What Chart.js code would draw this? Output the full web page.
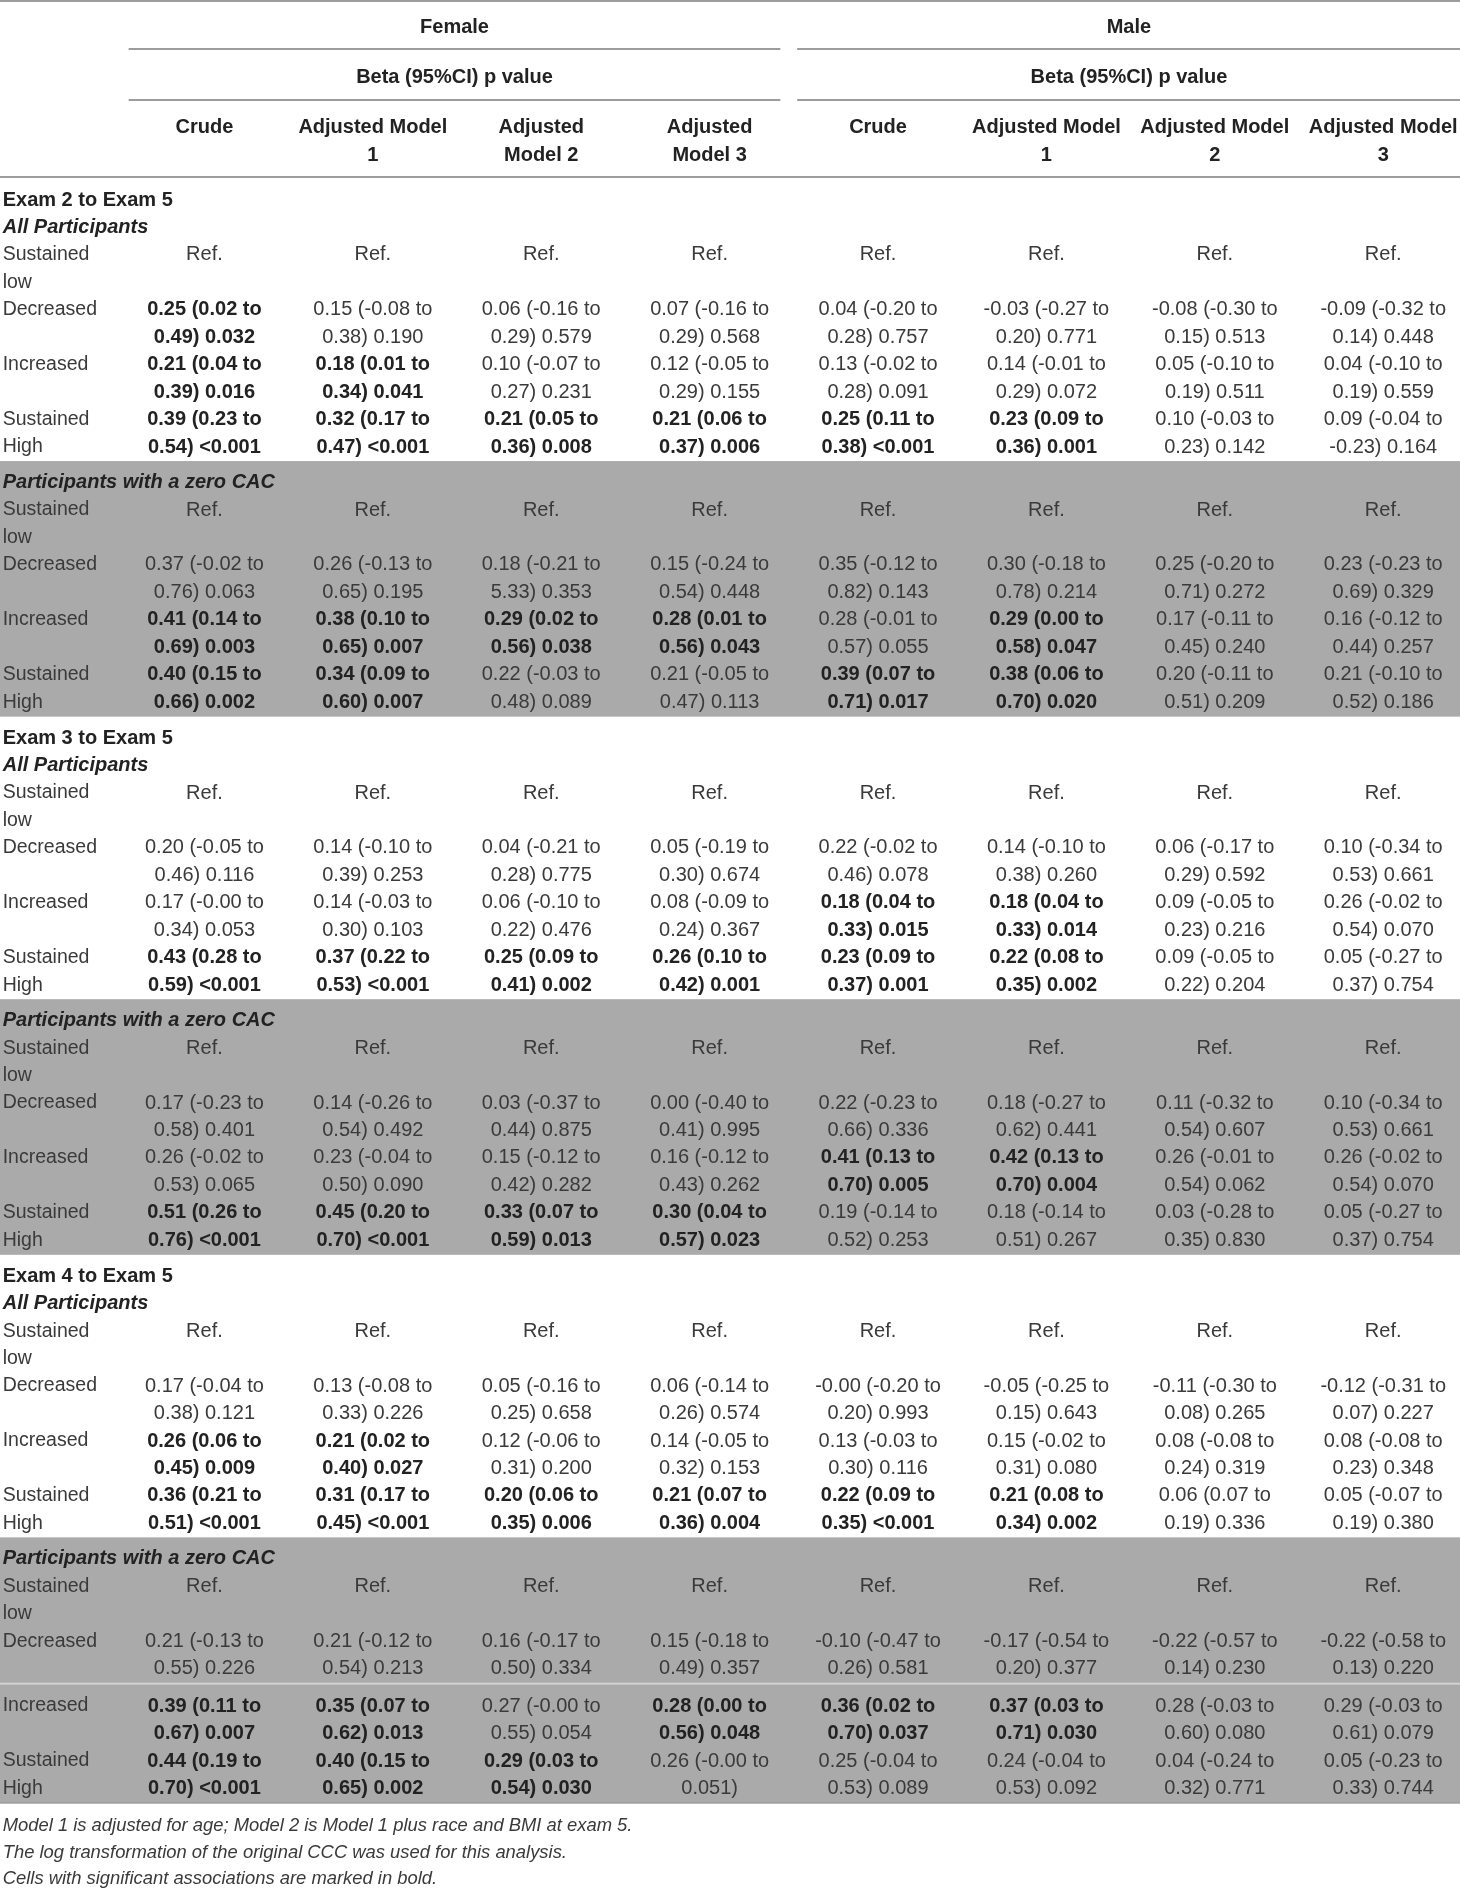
<!DOCTYPE html>
<html>
<head>
<meta charset="utf-8">
<script src="https://cdn.jsdelivr.net/npm/chart.js@4.4.1/dist/chart.umd.min.js"></script>
<style>
  html, body { margin: 0; padding: 0; background: #ffffff; }
  #wrap { position: relative; width: 1460px; height: 1888px; }
</style>
</head>
<body>
<div id="wrap"><canvas id="c"></canvas></div>
<script>
// ---------------- DATA ----------------
const columnGroups = ['Female', 'Male'];
const groupSubtitle = 'Beta (95%CI) p value';
const modelHeaders = [
  ['Crude'], ['Adjusted Model', '1'], ['Adjusted', 'Model 2'], ['Adjusted', 'Model 3'],
  ['Crude'], ['Adjusted Model', '1'], ['Adjusted Model', '2'], ['Adjusted Model', '3']
];
const sectionTitles = ['Exam 2 to Exam 5', 'Exam 3 to Exam 5', 'Exam 4 to Exam 5'];
const subgroupTitles = ['All Participants', 'Participants with a zero CAC'];
const rowLabels = [['Sustained', 'low'], ['Decreased', ''], ['Increased', ''], ['Sustained', 'High']];
const refLabel = 'Ref.';
// '*' marks a cell shown in bold (significant association)
const e2All = [
  ['*0.25 (0.02 to 0.49) 0.032', '0.15 (-0.08 to 0.38) 0.190', '0.06 (-0.16 to 0.29) 0.579', '0.07 (-0.16 to 0.29) 0.568', '0.04 (-0.20 to 0.28) 0.757', '-0.03 (-0.27 to 0.20) 0.771', '-0.08 (-0.30 to 0.15) 0.513', '-0.09 (-0.32 to 0.14) 0.448'],
  ['*0.21 (0.04 to 0.39) 0.016', '*0.18 (0.01 to 0.34) 0.041', '0.10 (-0.07 to 0.27) 0.231', '0.12 (-0.05 to 0.29) 0.155', '0.13 (-0.02 to 0.28) 0.091', '0.14 (-0.01 to 0.29) 0.072', '0.05 (-0.10 to 0.19) 0.511', '0.04 (-0.10 to 0.19) 0.559'],
  ['*0.39 (0.23 to 0.54) <0.001', '*0.32 (0.17 to 0.47) <0.001', '*0.21 (0.05 to 0.36) 0.008', '*0.21 (0.06 to 0.37) 0.006', '*0.25 (0.11 to 0.38) <0.001', '*0.23 (0.09 to 0.36) 0.001', '0.10 (-0.03 to 0.23) 0.142', '0.09 (-0.04 to -0.23) 0.164']
];
const e2Zero = [
  ['0.37 (-0.02 to 0.76) 0.063', '0.26 (-0.13 to 0.65) 0.195', '0.18 (-0.21 to 5.33) 0.353', '0.15 (-0.24 to 0.54) 0.448', '0.35 (-0.12 to 0.82) 0.143', '0.30 (-0.18 to 0.78) 0.214', '0.25 (-0.20 to 0.71) 0.272', '0.23 (-0.23 to 0.69) 0.329'],
  ['*0.41 (0.14 to 0.69) 0.003', '*0.38 (0.10 to 0.65) 0.007', '*0.29 (0.02 to 0.56) 0.038', '*0.28 (0.01 to 0.56) 0.043', '0.28 (-0.01 to 0.57) 0.055', '*0.29 (0.00 to 0.58) 0.047', '0.17 (-0.11 to 0.45) 0.240', '0.16 (-0.12 to 0.44) 0.257'],
  ['*0.40 (0.15 to 0.66) 0.002', '*0.34 (0.09 to 0.60) 0.007', '0.22 (-0.03 to 0.48) 0.089', '0.21 (-0.05 to 0.47) 0.113', '*0.39 (0.07 to 0.71) 0.017', '*0.38 (0.06 to 0.70) 0.020', '0.20 (-0.11 to 0.51) 0.209', '0.21 (-0.10 to 0.52) 0.186']
];
const e3All = [
  ['0.20 (-0.05 to 0.46) 0.116', '0.14 (-0.10 to 0.39) 0.253', '0.04 (-0.21 to 0.28) 0.775', '0.05 (-0.19 to 0.30) 0.674', '0.22 (-0.02 to 0.46) 0.078', '0.14 (-0.10 to 0.38) 0.260', '0.06 (-0.17 to 0.29) 0.592', '0.10 (-0.34 to 0.53) 0.661'],
  ['0.17 (-0.00 to 0.34) 0.053', '0.14 (-0.03 to 0.30) 0.103', '0.06 (-0.10 to 0.22) 0.476', '0.08 (-0.09 to 0.24) 0.367', '*0.18 (0.04 to 0.33) 0.015', '*0.18 (0.04 to 0.33) 0.014', '0.09 (-0.05 to 0.23) 0.216', '0.26 (-0.02 to 0.54) 0.070'],
  ['*0.43 (0.28 to 0.59) <0.001', '*0.37 (0.22 to 0.53) <0.001', '*0.25 (0.09 to 0.41) 0.002', '*0.26 (0.10 to 0.42) 0.001', '*0.23 (0.09 to 0.37) 0.001', '*0.22 (0.08 to 0.35) 0.002', '0.09 (-0.05 to 0.22) 0.204', '0.05 (-0.27 to 0.37) 0.754']
];
const e3Zero = [
  ['0.17 (-0.23 to 0.58) 0.401', '0.14 (-0.26 to 0.54) 0.492', '0.03 (-0.37 to 0.44) 0.875', '0.00 (-0.40 to 0.41) 0.995', '0.22 (-0.23 to 0.66) 0.336', '0.18 (-0.27 to 0.62) 0.441', '0.11 (-0.32 to 0.54) 0.607', '0.10 (-0.34 to 0.53) 0.661'],
  ['0.26 (-0.02 to 0.53) 0.065', '0.23 (-0.04 to 0.50) 0.090', '0.15 (-0.12 to 0.42) 0.282', '0.16 (-0.12 to 0.43) 0.262', '*0.41 (0.13 to 0.70) 0.005', '*0.42 (0.13 to 0.70) 0.004', '0.26 (-0.01 to 0.54) 0.062', '0.26 (-0.02 to 0.54) 0.070'],
  ['*0.51 (0.26 to 0.76) <0.001', '*0.45 (0.20 to 0.70) <0.001', '*0.33 (0.07 to 0.59) 0.013', '*0.30 (0.04 to 0.57) 0.023', '0.19 (-0.14 to 0.52) 0.253', '0.18 (-0.14 to 0.51) 0.267', '0.03 (-0.28 to 0.35) 0.830', '0.05 (-0.27 to 0.37) 0.754']
];
const e4All = [
  ['0.17 (-0.04 to 0.38) 0.121', '0.13 (-0.08 to 0.33) 0.226', '0.05 (-0.16 to 0.25) 0.658', '0.06 (-0.14 to 0.26) 0.574', '-0.00 (-0.20 to 0.20) 0.993', '-0.05 (-0.25 to 0.15) 0.643', '-0.11 (-0.30 to 0.08) 0.265', '-0.12 (-0.31 to 0.07) 0.227'],
  ['*0.26 (0.06 to 0.45) 0.009', '*0.21 (0.02 to 0.40) 0.027', '0.12 (-0.06 to 0.31) 0.200', '0.14 (-0.05 to 0.32) 0.153', '0.13 (-0.03 to 0.30) 0.116', '0.15 (-0.02 to 0.31) 0.080', '0.08 (-0.08 to 0.24) 0.319', '0.08 (-0.08 to 0.23) 0.348'],
  ['*0.36 (0.21 to 0.51) <0.001', '*0.31 (0.17 to 0.45) <0.001', '*0.20 (0.06 to 0.35) 0.006', '*0.21 (0.07 to 0.36) 0.004', '*0.22 (0.09 to 0.35) <0.001', '*0.21 (0.08 to 0.34) 0.002', '0.06 (0.07 to 0.19) 0.336', '0.05 (-0.07 to 0.19) 0.380']
];
const e4Zero = [
  ['0.21 (-0.13 to 0.55) 0.226', '0.21 (-0.12 to 0.54) 0.213', '0.16 (-0.17 to 0.50) 0.334', '0.15 (-0.18 to 0.49) 0.357', '-0.10 (-0.47 to 0.26) 0.581', '-0.17 (-0.54 to 0.20) 0.377', '-0.22 (-0.57 to 0.14) 0.230', '-0.22 (-0.58 to 0.13) 0.220'],
  ['*0.39 (0.11 to 0.67) 0.007', '*0.35 (0.07 to 0.62) 0.013', '0.27 (-0.00 to 0.55) 0.054', '*0.28 (0.00 to 0.56) 0.048', '*0.36 (0.02 to 0.70) 0.037', '*0.37 (0.03 to 0.71) 0.030', '0.28 (-0.03 to 0.60) 0.080', '0.29 (-0.03 to 0.61) 0.079'],
  ['*0.44 (0.19 to 0.70) <0.001', '*0.40 (0.15 to 0.65) 0.002', '*0.29 (0.03 to 0.54) 0.030', '0.26 (-0.00 to 0.051)', '0.25 (-0.04 to 0.53) 0.089', '0.24 (-0.04 to 0.53) 0.092', '0.04 (-0.24 to 0.32) 0.771', '0.05 (-0.23 to 0.33) 0.744']
];
const footnotes = [
  'Model 1 is adjusted for age; Model 2 is Model 1 plus race and BMI at exam 5.',
  'The log transformation of the original CCC was used for this analysis.',
  'Cells with significant associations are marked in bold.'
];
const sectionData = [[e2All, e2Zero], [e3All, e3Zero], [e4All, e4Zero]];

// ---------------- LAYOUT (scale units) ----------------
const H = 1888;
const XMIN = -0.214, XMAX = 8.456;       // columns 1..8 are the model columns
const LABEL_X = XMIN + 0.016;             // left label column
const groupSpans = [[0.55, 4.42], [4.52, 8.46]];
const P = 27.45;                          // line pitch
const TEXT_DY = 2.5;                      // baseline nudge
const FONT = '"Liberation Sans", Arial, Helvetica, sans-serif';
const COL_BAND = '#aaaaaa', COL_RULE = '#9c9c9c', COL_LIGHT = '#d2d2d2';
const COL_BOLD = '#222222', COL_REG = '#3a3a3a';

const points = [];
const bands = [];
const rules = [];
const lightRules = [];
function add(x, y, t, s) { points.push({ x: x, y: y + TEXT_DY, t: t, s: s }); }

// header
groupSpans.forEach((g, i) => add((g[0] + g[1]) / 2, 25, columnGroups[i], 'head'));
rules.push({ y: 1, x0: XMIN, x1: XMAX, w: 2 });
groupSpans.forEach(g => rules.push({ y: 49, x0: g[0], x1: g[1], w: 2 }));
groupSpans.forEach(g => add((g[0] + g[1]) / 2, 75, groupSubtitle, 'head'));
groupSpans.forEach(g => rules.push({ y: 100, x0: g[0], x1: g[1], w: 2 }));
modelHeaders.forEach((h, i) => {
  add(i + 1, 125, h[0], 'head');
  if (h[1]) add(i + 1, 153, h[1], 'head');
});
rules.push({ y: 177, x0: XMIN, x1: XMAX, w: 2 });

function splitCell(s) {
  const k = s.indexOf(' to ');
  return [s.slice(0, k + 3), s.slice(k + 4)];
}

let y = 197.5;
sectionTitles.forEach((title, si) => {
  add(LABEL_X, y, title, 'section');
  let last = y;
  subgroupTitles.forEach((sg, gi) => {
    let sgY;
    if (gi === 0) { sgY = y + P; }
    else { sgY = last + 35.5; bands.push({ top: last + 16.5, bottom: null }); }
    add(LABEL_X, sgY, sg, 'subgroup');
    const vals = sectionData[si][gi];
    let extra = 0;
    rowLabels.forEach((lab, r) => {
      if (si === 2 && gi === 1 && r === 2) { extra = 10; lightRules.push(last + 17.5); }
      const y1 = sgY + P * (1 + 2 * r) + extra;
      const y2 = y1 + P;
      add(LABEL_X, y1, lab[0], 'label');
      if (lab[1]) add(LABEL_X, y2, lab[1], 'label');
      for (let c = 0; c < 8; c++) {
        if (r === 0) { add(c + 1, y1, refLabel, 'value'); continue; }
        let s = vals[r - 1][c];
        const bold = s.charAt(0) === '*';
        if (bold) s = s.slice(1);
        const parts = splitCell(s);
        add(c + 1, y1, parts[0], bold ? 'bold' : 'value');
        add(c + 1, y2, parts[1], bold ? 'bold' : 'value');
      }
      last = y2;
    });
    if (gi === 1) bands[bands.length - 1].bottom = last + 17;
  });
  y = last + 36;
});
rules.push({ y: bands[bands.length - 1].bottom, x0: XMIN, x1: XMAX, w: 1.5 });
footnotes.forEach((f, i) => add(LABEL_X, 1823.5 + i * 26.5, f, 'note'));

const STYLES = {
  head:     { font: 'bold 20px ' + FONT, align: 'center', color: COL_BOLD },
  section:  { font: 'bold 20px ' + FONT, align: 'left', color: COL_BOLD },
  subgroup: { font: 'italic bold 20px ' + FONT, align: 'left', color: COL_BOLD },
  label:    { font: '19.5px ' + FONT, align: 'left', color: COL_REG },
  value:    { font: '20px ' + FONT, align: 'center', color: COL_REG },
  bold:     { font: 'bold 20px ' + FONT, align: 'center', color: COL_BOLD },
  note:     { font: 'italic 18.4px ' + FONT, align: 'left', color: COL_REG }
};

const tablePlugin = {
  id: 'tablePlugin',
  beforeDatasetsDraw(chart) {
    const ctx = chart.ctx, xs = chart.scales.x, ys = chart.scales.y;
    const left = xs.getPixelForValue(XMIN), right = xs.getPixelForValue(XMAX);
    ctx.save();
    ctx.fillStyle = '#ffffff';
    ctx.fillRect(0, 0, chart.width, chart.height);
    bands.forEach(b => {
      const t = ys.getPixelForValue(b.top), bt = ys.getPixelForValue(b.bottom);
      ctx.fillStyle = COL_BAND;
      ctx.fillRect(left, t, right - left, bt - t);
    });
    lightRules.forEach(v => {
      ctx.fillStyle = COL_LIGHT;
      const p = ys.getPixelForValue(v);
      ctx.fillRect(left, p - 1, right - left, 2);
    });
    rules.forEach(r => {
      ctx.fillStyle = COL_RULE;
      const p = ys.getPixelForValue(r.y);
      const a = xs.getPixelForValue(r.x0), b = xs.getPixelForValue(r.x1);
      ctx.fillRect(a, p - r.w / 2, b - a, r.w);
    });
    ctx.restore();
  },
  afterDatasetsDraw(chart) {
    const ctx = chart.ctx;
    const meta = chart.getDatasetMeta(0);
    const data = chart.data.datasets[0].data;
    ctx.save();
    ctx.textBaseline = 'middle';
    meta.data.forEach((el, i) => {
      const d = data[i], st = STYLES[d.s];
      ctx.font = st.font;
      ctx.fillStyle = st.color;
      ctx.textAlign = st.align;
      ctx.fillText(d.t, el.x, el.y);
    });
    ctx.restore();
  }
};

new Chart(document.getElementById('c'), {
  type: 'scatter',
  data: { datasets: [{ data: points, pointRadius: 0, pointHoverRadius: 0, showLine: false }] },
  options: {
    responsive: true,
    maintainAspectRatio: false,
    animation: false,
    events: [],
    layout: { padding: 0 },
    plugins: { legend: { display: false }, tooltip: { enabled: false } },
    scales: {
      x: { type: 'linear', min: XMIN, max: XMAX, display: false },
      y: { type: 'linear', min: 0, max: H, reverse: true, display: false }
    }
  },
  plugins: [tablePlugin]
});
</script>
</body>
</html>
